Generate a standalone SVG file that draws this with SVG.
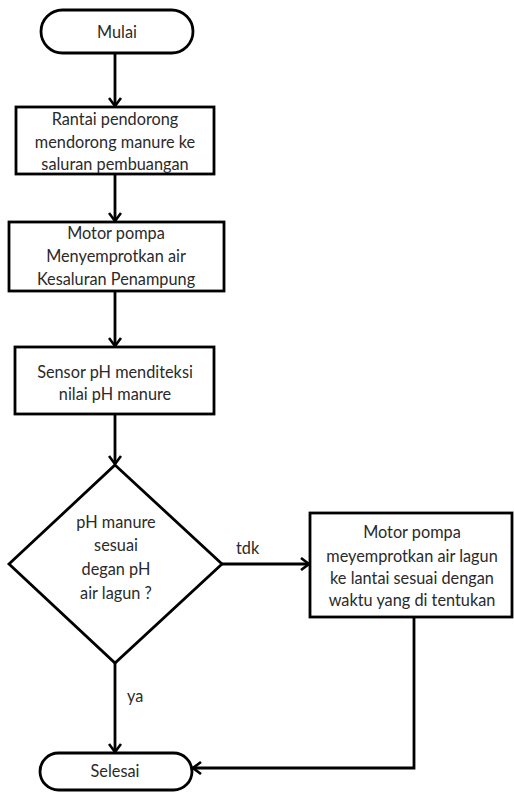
<svg xmlns="http://www.w3.org/2000/svg" width="514" height="792" viewBox="0 0 514 792">
<style>
.shape{fill:#fff;stroke:#000;stroke-width:2.8}
.conn{fill:none;stroke:#000;stroke-width:2.8}
text{font-family:Lato,"Open Sans","Liberation Sans",sans-serif;font-size:16.3px;fill:#2a2a2a;text-anchor:middle}
.lbl{text-anchor:start}
</style>
<defs>
<marker id="arr" viewBox="0 0 12 14" refX="10" refY="7" markerWidth="12" markerHeight="14" markerUnits="userSpaceOnUse" orient="auto">
<path d="M2,1 L10,7 L2,13" fill="none" stroke="#000" stroke-width="2.6"/>
</marker>
</defs>
<rect width="514" height="792" fill="#fff"/>
<g id="connectors">
<line class="conn" x1="115" y1="53" x2="115" y2="106" marker-end="url(#arr)"/>
<line class="conn" x1="115" y1="174" x2="115" y2="221" marker-end="url(#arr)"/>
<line class="conn" x1="115" y1="291" x2="115" y2="346" marker-end="url(#arr)"/>
<line class="conn" x1="115" y1="414" x2="115" y2="464" marker-end="url(#arr)"/>
<line class="conn" x1="222" y1="564" x2="309" y2="564" marker-end="url(#arr)"/>
<line class="conn" x1="115" y1="663" x2="115" y2="752" marker-end="url(#arr)"/>
<polyline class="conn" points="414,617 414,768 193,768" marker-end="url(#arr)"/>
<text class="lbl" x="236" y="554">tdk</text>
<text class="lbl" x="127" y="702">ya</text>
</g>
<g id="start">
<rect class="shape" x="41" y="10" width="152" height="43" rx="21.5"/>
<text x="117" y="38">Mulai</text>
</g>
<g id="step1">
<rect class="shape" x="16" y="107" width="198" height="67"/>
<text x="115" y="125">Rantai pendorong</text>
<text x="115" y="148">mendorong manure ke</text>
<text x="115" y="170">saluran pembuangan</text>
</g>
<g id="step2">
<rect class="shape" x="9" y="222" width="215" height="69"/>
<text x="116" y="239">Motor pompa</text>
<text x="116" y="262">Menyemprotkan air</text>
<text x="116" y="285">Kesaluran Penampung</text>
</g>
<g id="step3">
<rect class="shape" x="15" y="347" width="199" height="67"/>
<text x="115" y="378">Sensor pH menditeksi</text>
<text x="115" y="400">nilai pH manure</text>
</g>
<g id="decision">
<polygon class="shape" points="115,465 222,564 115,663 9,564"/>
<text x="116" y="528">pH manure</text>
<text x="116" y="551">sesuai</text>
<text x="116" y="575">degan pH</text>
<text x="116" y="599">air lagun ?</text>
</g>
<g id="step4">
<rect class="shape" x="310" y="513" width="202" height="104"/>
<text x="412" y="538">Motor pompa</text>
<text x="412" y="562">meyemprotkan air lagun</text>
<text x="412" y="584">ke lantai sesuai dengan</text>
<text x="412" y="606">waktu yang di tentukan</text>
</g>
<g id="end">
<rect class="shape" x="40" y="753" width="152" height="37" rx="18.5"/>
<text x="115" y="777">Selesai</text>
</g>
</svg>
